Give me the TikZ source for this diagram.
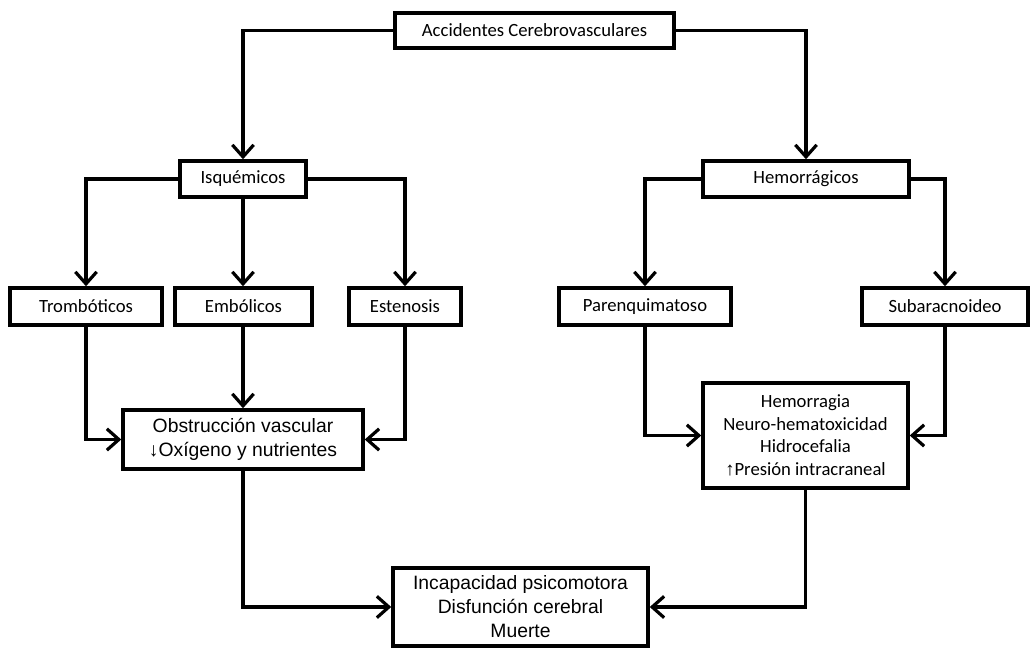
\documentclass[tikz,border=0pt]{standalone}
\usepackage{fontspec}
\setmainfont{Carlito}
\newfontfamily\arialfont{Liberation Sans}
\usetikzlibrary{arrows.meta}

\begin{document}
\begin{tikzpicture}[
        x=0.75pt, y=-0.75pt, % one unit = one pixel of the layout
        box/.style={draw, line width=2.6pt, inner sep=0pt, align=center, font=\fontsize{14}{17}\selectfont}, % Box styling
        result/.style={box, font=\arialfont\fontsize{14.5}{17.5}\selectfont}, % Box styling
        wh/.style 2 args={minimum width=#1*0.75pt, minimum height=#2*0.75pt},
        link/.style={line width=2.4pt, -{Straight Barb[length=9pt,width=16pt]}} % Arrow styling
        ]
        \useasboundingbox (0,0) rectangle (1031,648);

        % Define nodes
        \node (acv) [box, wh={279}{35}] at (534.5,30.5) {Accidentes Cerebrovasculares};
        \node (isq) [box, wh={126}{36}] at (243,179) {Isquémicos};
        \node (hem) [box, wh={206}{36}] at (806,179) {Hemorrágicos};

        \node (trom) [box, wh={152}{37}] at (86,306.5) {Trombóticos};
        \node (embo) [box, wh={137}{37}] at (243.5,306.5) {Embólicos};
        \node (esten) [box, wh={112}{37}] at (405,306.5) {Estenosis};
        \node (paren) [box, wh={172}{37}] at (645,306.5) {Parenquimatoso};
        \node (subar) [box, wh={166}{37}] at (945,306.5) {Subaracnoideo};

        \node (obstr) [result, wh={240}{59}] at (243,439.5) {Obstrucción vascular \\ ↓Oxígeno y nutrientes};
        \node (hemo) [box, wh={205}{105}] at (805.5,435.5) {Hemorragia \\ Neuro-hematoxicidad \\ Hidrocefalia \\ {\arialfont ↑}Presión intracraneal};
        \node (final) [result, wh={255}{78}, font=\arialfont\fontsize{14.5}{18}\selectfont] at (520.5,607) {Incapacidad psicomotora \\ Disfunción cerebral \\ Muerte};

        % Draw arrows
        \draw[link] (acv.west) -| (isq.north);
        \draw[link] (acv.east) -| (hem.north);

        \draw[link] (isq.west) -| (trom.north);
        \draw[link] (isq.south) -- (isq.south |- embo.north);
        \draw[link] (isq.east) -| (esten.north);
        \draw[link] (hem.west) -| (paren.north);
        \draw[link] (hem.east) -| (subar.north);

        \draw[link] (trom.south) |- (obstr.west);
        \draw[link] (obstr.north |- embo.south) -- (obstr.north);
        \draw[link] (esten.south) |- (obstr.east);
        \draw[link] (paren.south) |- (hemo.west);
        \draw[link] (subar.south) |- (hemo.east);

        \draw[link] (obstr.south) |- (final.west);
        \draw[link] (hemo.south) |- (final.east);
    \end{tikzpicture}
\end{document}
